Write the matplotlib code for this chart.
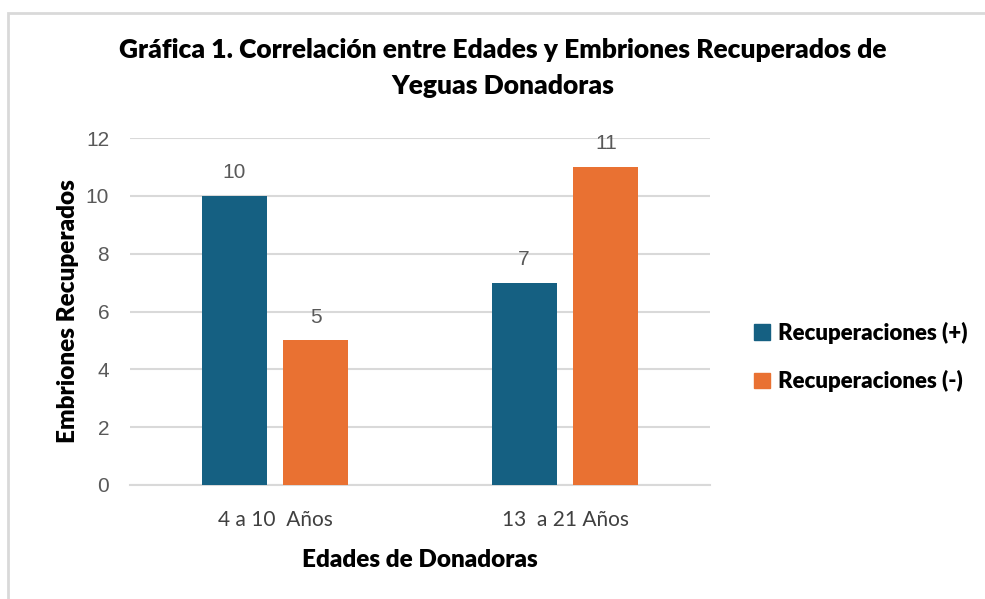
import matplotlib
matplotlib.use("Agg")
import matplotlib.pyplot as plt
from matplotlib.patches import Rectangle, Patch

categories = ["4 a 10  Años", "13  a 21 Años"]
series_names = ["Recuperaciones (+)", "Recuperaciones (-)"]
rec_pos = [10, 7]
rec_neg = [5, 11]
yticks = [0, 2, 4, 6, 8, 10, 12]

blue = "#156082"
orange = "#E97132"
grid = "#D9D9D9"
gray_txt = "#595959"

plt.rcParams['font.family'] = ["Lato", "DejaVu Sans"]

fig = plt.figure(figsize=(9.85, 5.99), dpi=100)
fig.patches.append(Rectangle((8/985, -0.01), 1.0, 1.01 - 13/599, transform=fig.transFigure,
                             fill=False, edgecolor="#D9D9D9", linewidth=2))
ax = fig.add_axes([130/985, 1 - 485/599, 580/985, (485 - 138)/599])

x = list(range(len(categories)))
w = 0.224
off = 0.141
b1 = ax.bar([i - off for i in x], rec_pos, width=w, color=blue, label=series_names[0], zorder=3)
b2 = ax.bar([i + off for i in x], rec_neg, width=w, color=orange, label=series_names[1], zorder=3)

for bars in (b1, b2):
    for r in bars:
        ax.annotate(f"{r.get_height():g}", (r.get_x() + r.get_width()/2, r.get_height()),
                    xytext=(0, 10), textcoords="offset points", ha="center", va="bottom",
                    fontsize=15, color=gray_txt, family=["Liberation Sans", "DejaVu Sans"])

ax.set_xlim(-0.5, 1.5)
ax.set_ylim(0, 12)
ax.set_yticks(yticks)
ax.set_yticklabels([str(t) for t in yticks], fontsize=15, color=gray_txt,
                   family=["Liberation Sans", "DejaVu Sans"])
ax.set_xticks(x)
ax.set_xticklabels(categories, fontsize=15, color="#404040")
ax.tick_params(axis="both", length=0)
ax.tick_params(axis="y", pad=15)
ax.tick_params(axis="x", pad=18)
ax.grid(axis="y", color=grid, linewidth=1.5, zorder=0)
for s in ["top", "right", "left"]:
    ax.spines[s].set_visible(False)
ax.spines["bottom"].set_color(grid)
ax.spines["bottom"].set_linewidth(1.5)

ax.set_ylabel("Embriones Recuperados", fontsize=17.5, fontweight="heavy", labelpad=5)
ax.set_xlabel("Edades de Donadoras", fontsize=17.5, fontweight="heavy", labelpad=14)

fig.text(503/985, 1 - 68/599, "Gráfica 1. Correlación entre Edades y Embriones Recuperados de\nYeguas Donadoras",
         ha="center", va="center", fontsize=19, fontweight="heavy", family=["Lato", "DejaVu Sans"],
         linespacing=1.55)

fig.legend(handles=[Patch(color=blue), Patch(color=orange)], labels=series_names,
           loc="center left", bbox_to_anchor=(734/985, 1 - 357/599), frameon=False,
           prop={"size": 16, "weight": "heavy"}, handlelength=0.7, handleheight=0.7,
           handletextpad=0.4, labelspacing=1.2)

fig.savefig("out.png", dpi=100)
